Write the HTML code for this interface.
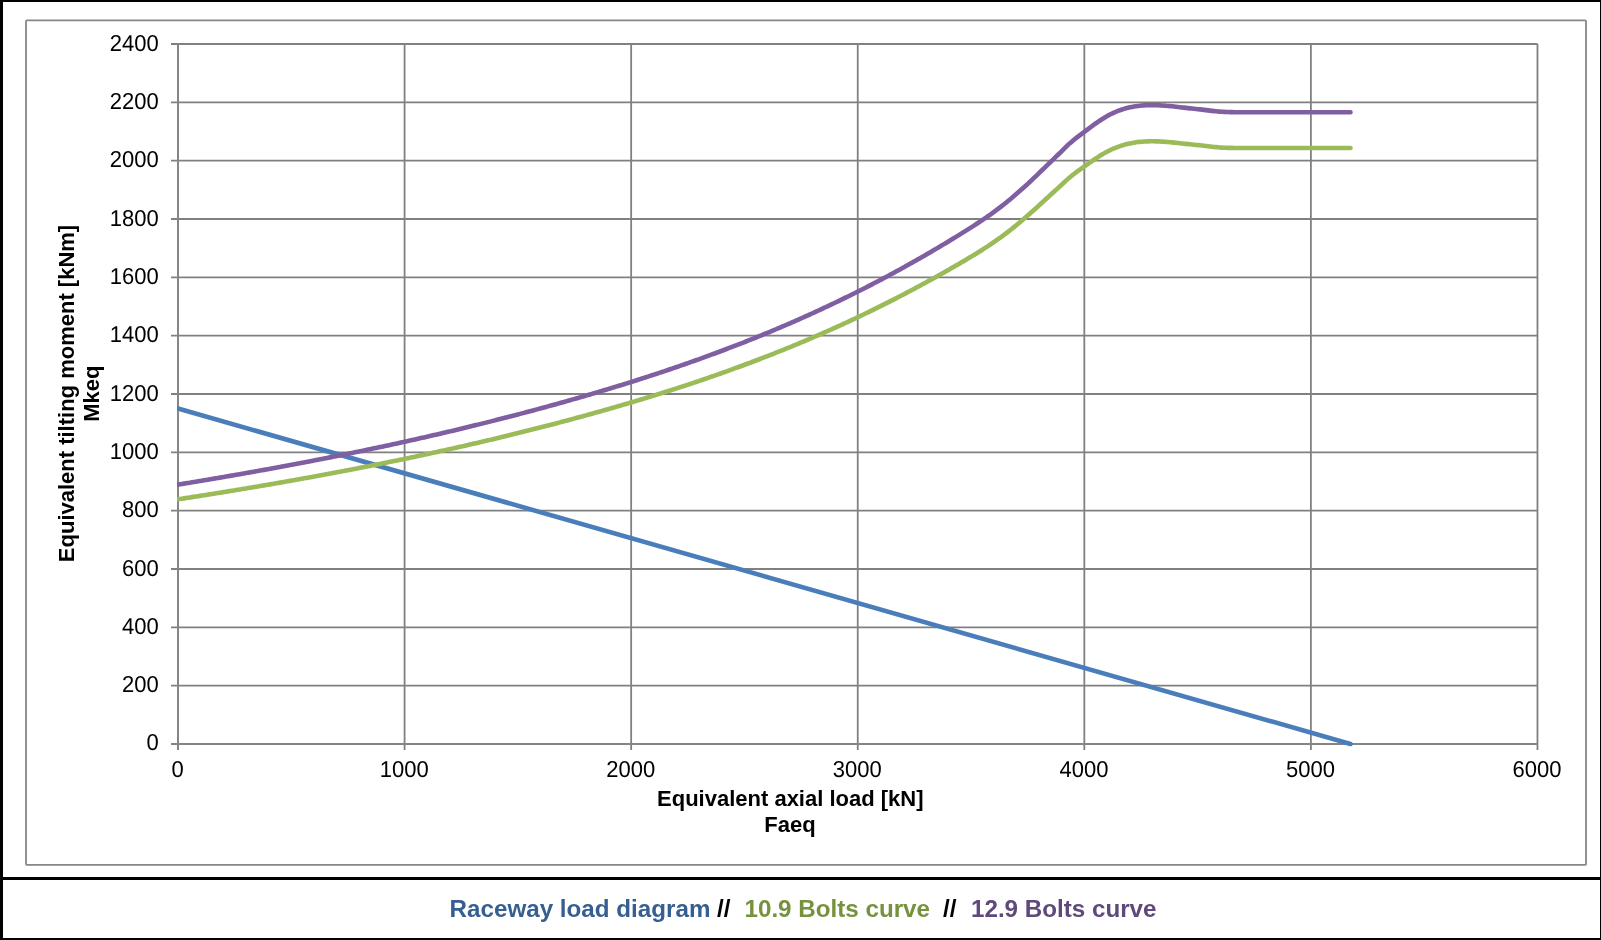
<!DOCTYPE html>
<html><head><meta charset="utf-8"><style>
html,body{margin:0;padding:0;background:#fff;}
body{width:1601px;height:940px;overflow:hidden;}
svg{display:block;font-family:"Liberation Sans",sans-serif;will-change:transform;}
</style></head><body>
<svg width="1601" height="940" viewBox="0 0 1601 940">
<rect x="0" y="0" width="1601" height="940" fill="#fff"/>
<rect x="26" y="20.3" width="1560" height="844.6" rx="1" fill="none" stroke="#878787" stroke-width="1.8"/>
<g stroke="#808080" stroke-width="1.8" fill="none">
<line x1="171" y1="685.67" x2="1537.5" y2="685.67"/><line x1="171" y1="627.33" x2="1537.5" y2="627.33"/><line x1="171" y1="569.00" x2="1537.5" y2="569.00"/><line x1="171" y1="510.67" x2="1537.5" y2="510.67"/><line x1="171" y1="452.33" x2="1537.5" y2="452.33"/><line x1="171" y1="394.00" x2="1537.5" y2="394.00"/><line x1="171" y1="335.67" x2="1537.5" y2="335.67"/><line x1="171" y1="277.33" x2="1537.5" y2="277.33"/><line x1="171" y1="219.00" x2="1537.5" y2="219.00"/><line x1="171" y1="160.67" x2="1537.5" y2="160.67"/><line x1="171" y1="102.33" x2="1537.5" y2="102.33"/><line x1="171" y1="44.00" x2="1537.5" y2="44.00"/><line x1="404.58" y1="44" x2="404.58" y2="750"/><line x1="631.16" y1="44" x2="631.16" y2="750"/><line x1="857.74" y1="44" x2="857.74" y2="750"/><line x1="1084.32" y1="44" x2="1084.32" y2="750"/><line x1="1310.90" y1="44" x2="1310.90" y2="750"/><line x1="1537.48" y1="44" x2="1537.48" y2="750"/>
</g>
<g stroke="#858585" stroke-width="2" fill="none"><line x1="171" y1="744" x2="1537.5" y2="744"/><line x1="178" y1="44" x2="178" y2="750"/></g>
<g font-size="22" fill="#000" text-anchor="end" style="text-rendering:geometricPrecision"><text transform="translate(158.8,749.80) scale(1,1.045)">0</text><text transform="translate(158.8,692.47) scale(1,1.045)">200</text><text transform="translate(158.8,634.13) scale(1,1.045)">400</text><text transform="translate(158.8,575.80) scale(1,1.045)">600</text><text transform="translate(158.8,517.47) scale(1,1.045)">800</text><text transform="translate(158.8,459.13) scale(1,1.045)">1000</text><text transform="translate(158.8,400.80) scale(1,1.045)">1200</text><text transform="translate(158.8,342.47) scale(1,1.045)">1400</text><text transform="translate(158.8,284.13) scale(1,1.045)">1600</text><text transform="translate(158.8,225.80) scale(1,1.045)">1800</text><text transform="translate(158.8,167.47) scale(1,1.045)">2000</text><text transform="translate(158.8,109.13) scale(1,1.045)">2200</text><text transform="translate(158.8,50.80) scale(1,1.045)">2400</text></g>
<g font-size="22" fill="#000" text-anchor="middle" style="text-rendering:geometricPrecision"><text transform="translate(177.60,776.6) scale(1,1.045)">0</text><text transform="translate(404.18,776.6) scale(1,1.045)">1000</text><text transform="translate(630.76,776.6) scale(1,1.045)">2000</text><text transform="translate(857.34,776.6) scale(1,1.045)">3000</text><text transform="translate(1083.92,776.6) scale(1,1.045)">4000</text><text transform="translate(1310.50,776.6) scale(1,1.045)">5000</text><text transform="translate(1537.08,776.6) scale(1,1.045)">6000</text></g>
<clipPath id="pc"><rect x="177" y="0" width="1424" height="940"/></clipPath>
<g fill="none" stroke-width="4.6" stroke-linecap="round" stroke-linejoin="round" clip-path="url(#pc)">
<polyline stroke="#4A7EBB" points="178,408.5 1350.5,744"/>
<polyline stroke="#9BBB59" points="178.0,499.30 180.0,498.99 182.0,498.69 184.0,498.38 186.0,498.07 188.0,497.76 190.0,497.45 192.0,497.13 194.0,496.82 196.0,496.51 198.0,496.19 200.0,495.88 202.0,495.56 204.0,495.25 206.0,494.93 208.0,494.61 210.0,494.29 212.0,493.97 214.0,493.65 216.0,493.33 218.0,493.01 220.0,492.69 222.0,492.37 224.0,492.04 226.0,491.72 228.0,491.39 230.0,491.06 232.0,490.74 234.0,490.41 236.0,490.08 238.0,489.75 240.0,489.42 242.0,489.09 244.0,488.76 246.0,488.42 248.0,488.09 250.0,487.75 252.0,487.42 254.0,487.08 256.0,486.74 258.0,486.40 260.0,486.07 262.0,485.73 264.0,485.38 266.0,485.04 268.0,484.70 270.0,484.36 272.0,484.01 274.0,483.66 276.0,483.32 278.0,482.97 280.0,482.62 282.0,482.27 284.0,481.92 286.0,481.57 288.0,481.22 290.0,480.87 292.0,480.51 294.0,480.16 296.0,479.80 298.0,479.44 300.0,479.08 302.0,478.72 304.0,478.36 306.0,478.00 308.0,477.64 310.0,477.28 312.0,476.91 314.0,476.55 316.0,476.18 318.0,475.82 320.0,475.45 322.0,475.08 324.0,474.71 326.0,474.34 328.0,473.96 330.0,473.59 332.0,473.22 334.0,472.84 336.0,472.46 338.0,472.09 340.0,471.71 342.0,471.33 344.0,470.95 346.0,470.56 348.0,470.18 350.0,469.80 352.0,469.41 354.0,469.02 356.0,468.64 358.0,468.25 360.0,467.86 362.0,467.47 364.0,467.08 366.0,466.68 368.0,466.29 370.0,465.89 372.0,465.49 374.0,465.10 376.0,464.70 378.0,464.30 380.0,463.90 382.0,463.49 384.0,463.09 386.0,462.68 388.0,462.28 390.0,461.87 392.0,461.46 394.0,461.05 396.0,460.64 398.0,460.23 400.0,459.82 402.0,459.40 404.0,458.99 406.0,458.57 408.0,458.15 410.0,457.73 412.0,457.31 414.0,456.89 416.0,456.46 418.0,456.04 420.0,455.61 422.0,455.19 424.0,454.76 426.0,454.33 428.0,453.90 430.0,453.46 432.0,453.03 434.0,452.59 436.0,452.16 438.0,451.72 440.0,451.28 442.0,450.84 444.0,450.40 446.0,449.96 448.0,449.51 450.0,449.07 452.0,448.62 454.0,448.17 456.0,447.72 458.0,447.27 460.0,446.82 462.0,446.37 464.0,445.91 466.0,445.45 468.0,445.00 470.0,444.54 472.0,444.08 474.0,443.61 476.0,443.15 478.0,442.68 480.0,442.22 482.0,441.75 484.0,441.28 486.0,440.81 488.0,440.34 490.0,439.87 492.0,439.39 494.0,438.91 496.0,438.44 498.0,437.96 500.0,437.48 502.0,436.99 504.0,436.51 506.0,436.03 508.0,435.54 510.0,435.05 512.0,434.56 514.0,434.07 516.0,433.58 518.0,433.08 520.0,432.59 522.0,432.09 524.0,431.59 526.0,431.09 528.0,430.59 530.0,430.09 532.0,429.58 534.0,429.07 536.0,428.57 538.0,428.06 540.0,427.55 542.0,427.03 544.0,426.52 546.0,426.00 548.0,425.49 550.0,424.97 552.0,424.45 554.0,423.92 556.0,423.40 558.0,422.88 560.0,422.35 562.0,421.82 564.0,421.29 566.0,420.76 568.0,420.23 570.0,419.69 572.0,419.15 574.0,418.62 576.0,418.08 578.0,417.53 580.0,416.99 582.0,416.45 584.0,415.90 586.0,415.35 588.0,414.80 590.0,414.25 592.0,413.69 594.0,413.14 596.0,412.58 598.0,412.02 600.0,411.46 602.0,410.90 604.0,410.33 606.0,409.76 608.0,409.20 610.0,408.62 612.0,408.05 614.0,407.48 616.0,406.90 618.0,406.32 620.0,405.74 622.0,405.16 624.0,404.57 626.0,403.98 628.0,403.40 630.0,402.80 632.0,402.21 634.0,401.61 636.0,401.02 638.0,400.42 640.0,399.81 642.0,399.21 644.0,398.60 646.0,397.99 648.0,397.38 650.0,396.77 652.0,396.15 654.0,395.53 656.0,394.91 658.0,394.29 660.0,393.66 662.0,393.04 664.0,392.41 666.0,391.77 668.0,391.14 670.0,390.50 672.0,389.86 674.0,389.22 676.0,388.57 678.0,387.93 680.0,387.28 682.0,386.62 684.0,385.97 686.0,385.31 688.0,384.65 690.0,383.99 692.0,383.32 694.0,382.65 696.0,381.98 698.0,381.31 700.0,380.63 702.0,379.95 704.0,379.27 706.0,378.58 708.0,377.89 710.0,377.20 712.0,376.51 714.0,375.81 716.0,375.12 718.0,374.41 720.0,373.71 722.0,373.00 724.0,372.29 726.0,371.58 728.0,370.86 730.0,370.14 732.0,369.42 734.0,368.69 736.0,367.96 738.0,367.23 740.0,366.50 742.0,365.76 744.0,365.02 746.0,364.27 748.0,363.53 750.0,362.78 752.0,362.02 754.0,361.27 756.0,360.51 758.0,359.74 760.0,358.98 762.0,358.21 764.0,357.43 766.0,356.66 768.0,355.88 770.0,355.10 772.0,354.31 774.0,353.52 776.0,352.73 778.0,351.93 780.0,351.13 782.0,350.33 784.0,349.52 786.0,348.71 788.0,347.90 790.0,347.08 792.0,346.26 794.0,345.44 796.0,344.61 798.0,343.78 800.0,342.94 802.0,342.11 804.0,341.26 806.0,340.42 808.0,339.57 810.0,338.72 812.0,337.86 814.0,337.00 816.0,336.14 818.0,335.27 820.0,334.40 822.0,333.52 824.0,332.64 826.0,331.76 828.0,330.87 830.0,329.98 832.0,329.09 834.0,328.19 836.0,327.29 838.0,326.38 840.0,325.47 842.0,324.56 844.0,323.64 846.0,322.72 848.0,321.80 850.0,320.87 852.0,319.93 854.0,318.99 856.0,318.05 858.0,317.11 860.0,316.16 862.0,315.20 864.0,314.25 866.0,313.28 868.0,312.32 870.0,311.35 872.0,310.37 874.0,309.39 876.0,308.41 878.0,307.42 880.0,306.43 882.0,305.43 884.0,304.43 886.0,303.43 888.0,302.42 890.0,301.41 892.0,300.39 894.0,299.37 896.0,298.34 898.0,297.31 900.0,296.28 902.0,295.24 904.0,294.19 906.0,293.15 908.0,292.09 910.0,291.04 912.0,289.97 914.0,288.91 916.0,287.84 918.0,286.77 920.0,285.69 922.0,284.60 924.0,283.52 926.0,282.43 928.0,281.33 930.0,280.23 932.0,279.13 934.0,278.02 936.0,276.91 938.0,275.79 940.0,274.67 942.0,273.55 944.0,272.42 946.0,271.29 948.0,270.15 950.0,269.01 952.0,267.86 954.0,266.71 956.0,265.56 958.0,264.40 960.0,263.24 962.0,262.08 964.0,260.90 966.0,259.72 968.0,258.54 970.0,257.34 972.0,256.14 974.0,254.92 976.0,253.70 978.0,252.46 980.0,251.20 982.0,249.94 984.0,248.66 986.0,247.36 988.0,246.05 990.0,244.72 992.0,243.37 994.0,242.00 996.0,240.61 998.0,239.20 1000.0,237.77 1002.0,236.32 1004.0,234.84 1006.0,233.34 1008.0,231.81 1010.0,230.26 1012.0,228.68 1014.0,227.08 1016.0,225.46 1018.0,223.82 1020.0,222.15 1022.0,220.47 1024.0,218.77 1026.0,217.04 1028.0,215.30 1030.0,213.55 1032.0,211.78 1034.0,209.99 1036.0,208.19 1038.0,206.38 1040.0,204.56 1042.0,202.74 1044.0,200.90 1046.0,199.07 1048.0,197.23 1050.0,195.40 1052.0,193.57 1054.0,191.74 1056.0,189.91 1058.0,188.08 1060.0,186.23 1062.0,184.36 1064.0,182.49 1066.0,180.64 1068.0,178.85 1070.0,177.15 1072.0,175.52 1074.0,173.95 1076.0,172.44 1078.0,170.97 1080.0,169.52 1082.0,168.10 1084.0,166.69 1086.0,165.28 1088.0,163.88 1090.0,162.48 1092.0,161.09 1094.0,159.73 1096.0,158.39 1098.0,157.08 1100.0,155.80 1102.0,154.57 1104.0,153.39 1106.0,152.26 1108.0,151.19 1110.0,150.18 1112.0,149.24 1114.0,148.36 1116.0,147.54 1118.0,146.79 1120.0,146.09 1122.0,145.44 1124.0,144.85 1126.0,144.31 1128.0,143.83 1130.0,143.39 1132.0,143.00 1134.0,142.65 1136.0,142.35 1138.0,142.09 1140.0,141.87 1142.0,141.69 1144.0,141.55 1146.0,141.44 1148.0,141.36 1150.0,141.32 1152.0,141.30 1154.0,141.32 1156.0,141.36 1158.0,141.42 1160.0,141.51 1162.0,141.61 1164.0,141.74 1166.0,141.88 1168.0,142.04 1170.0,142.22 1172.0,142.40 1174.0,142.60 1176.0,142.80 1178.0,143.01 1180.0,143.23 1182.0,143.45 1184.0,143.67 1186.0,143.89 1188.0,144.11 1190.0,144.32 1192.0,144.53 1194.0,144.74 1196.0,144.94 1198.0,145.13 1200.0,145.32 1202.0,145.52 1204.0,145.74 1206.0,145.98 1208.0,146.23 1210.0,146.47 1212.0,146.70 1214.0,146.92 1216.0,147.12 1218.0,147.30 1220.0,147.45 1222.0,147.58 1224.0,147.69 1226.0,147.78 1228.0,147.84 1230.0,147.89 1232.0,147.92 1234.0,147.94 1236.0,147.95 1238.0,147.95 1240.0,147.95 1350.0,147.95 1350.5,147.95"/>
<polyline stroke="#7F5FA1" points="178.0,484.62 180.0,484.29 182.0,483.97 184.0,483.64 186.0,483.31 188.0,482.98 190.0,482.65 192.0,482.32 194.0,481.99 196.0,481.66 198.0,481.33 200.0,480.99 202.0,480.66 204.0,480.32 206.0,479.99 208.0,479.65 210.0,479.31 212.0,478.97 214.0,478.63 216.0,478.29 218.0,477.95 220.0,477.61 222.0,477.27 224.0,476.92 226.0,476.58 228.0,476.23 230.0,475.89 232.0,475.54 234.0,475.19 236.0,474.84 238.0,474.50 240.0,474.14 242.0,473.79 244.0,473.44 246.0,473.09 248.0,472.73 250.0,472.38 252.0,472.02 254.0,471.67 256.0,471.31 258.0,470.95 260.0,470.59 262.0,470.23 264.0,469.87 266.0,469.50 268.0,469.14 270.0,468.78 272.0,468.41 274.0,468.04 276.0,467.68 278.0,467.31 280.0,466.94 282.0,466.57 284.0,466.20 286.0,465.82 288.0,465.45 290.0,465.08 292.0,464.70 294.0,464.32 296.0,463.95 298.0,463.57 300.0,463.19 302.0,462.81 304.0,462.43 306.0,462.04 308.0,461.66 310.0,461.28 312.0,460.89 314.0,460.50 316.0,460.11 318.0,459.72 320.0,459.33 322.0,458.94 324.0,458.55 326.0,458.16 328.0,457.76 330.0,457.37 332.0,456.97 334.0,456.57 336.0,456.17 338.0,455.77 340.0,455.37 342.0,454.97 344.0,454.56 346.0,454.16 348.0,453.75 350.0,453.34 352.0,452.94 354.0,452.53 356.0,452.12 358.0,451.70 360.0,451.29 362.0,450.88 364.0,450.46 366.0,450.04 368.0,449.62 370.0,449.21 372.0,448.78 374.0,448.36 376.0,447.94 378.0,447.52 380.0,447.09 382.0,446.66 384.0,446.24 386.0,445.81 388.0,445.38 390.0,444.94 392.0,444.51 394.0,444.08 396.0,443.64 398.0,443.20 400.0,442.76 402.0,442.33 404.0,441.88 406.0,441.44 408.0,441.00 410.0,440.55 412.0,440.11 414.0,439.66 416.0,439.21 418.0,438.76 420.0,438.31 422.0,437.86 424.0,437.40 426.0,436.95 428.0,436.49 430.0,436.03 432.0,435.57 434.0,435.11 436.0,434.65 438.0,434.18 440.0,433.72 442.0,433.25 444.0,432.78 446.0,432.31 448.0,431.84 450.0,431.37 452.0,430.90 454.0,430.42 456.0,429.95 458.0,429.47 460.0,428.99 462.0,428.51 464.0,428.02 466.0,427.54 468.0,427.06 470.0,426.57 472.0,426.08 474.0,425.59 476.0,425.10 478.0,424.61 480.0,424.11 482.0,423.62 484.0,423.12 486.0,422.62 488.0,422.12 490.0,421.62 492.0,421.11 494.0,420.61 496.0,420.10 498.0,419.59 500.0,419.08 502.0,418.57 504.0,418.06 506.0,417.55 508.0,417.03 510.0,416.51 512.0,415.99 514.0,415.47 516.0,414.95 518.0,414.43 520.0,413.90 522.0,413.38 524.0,412.85 526.0,412.32 528.0,411.78 530.0,411.25 532.0,410.72 534.0,410.18 536.0,409.64 538.0,409.10 540.0,408.56 542.0,408.02 544.0,407.47 546.0,406.92 548.0,406.38 550.0,405.83 552.0,405.27 554.0,404.72 556.0,404.17 558.0,403.61 560.0,403.05 562.0,402.49 564.0,401.93 566.0,401.36 568.0,400.80 570.0,400.23 572.0,399.66 574.0,399.09 576.0,398.52 578.0,397.95 580.0,397.37 582.0,396.79 584.0,396.21 586.0,395.63 588.0,395.05 590.0,394.46 592.0,393.88 594.0,393.29 596.0,392.70 598.0,392.10 600.0,391.51 602.0,390.91 604.0,390.31 606.0,389.71 608.0,389.11 610.0,388.50 612.0,387.89 614.0,387.29 616.0,386.67 618.0,386.06 620.0,385.44 622.0,384.83 624.0,384.21 626.0,383.58 628.0,382.96 630.0,382.33 632.0,381.70 634.0,381.07 636.0,380.44 638.0,379.80 640.0,379.16 642.0,378.52 644.0,377.88 646.0,377.23 648.0,376.58 650.0,375.93 652.0,375.28 654.0,374.63 656.0,373.97 658.0,373.31 660.0,372.64 662.0,371.98 664.0,371.31 666.0,370.64 668.0,369.97 670.0,369.29 672.0,368.61 674.0,367.93 676.0,367.25 678.0,366.56 680.0,365.87 682.0,365.18 684.0,364.49 686.0,363.79 688.0,363.09 690.0,362.38 692.0,361.68 694.0,360.97 696.0,360.26 698.0,359.54 700.0,358.83 702.0,358.11 704.0,357.38 706.0,356.66 708.0,355.93 710.0,355.20 712.0,354.46 714.0,353.72 716.0,352.98 718.0,352.24 720.0,351.49 722.0,350.74 724.0,349.99 726.0,349.23 728.0,348.47 730.0,347.71 732.0,346.94 734.0,346.17 736.0,345.40 738.0,344.63 740.0,343.85 742.0,343.06 744.0,342.28 746.0,341.49 748.0,340.70 750.0,339.90 752.0,339.10 754.0,338.30 756.0,337.50 758.0,336.69 760.0,335.88 762.0,335.06 764.0,334.24 766.0,333.42 768.0,332.59 770.0,331.76 772.0,330.93 774.0,330.09 776.0,329.25 778.0,328.41 780.0,327.56 782.0,326.71 784.0,325.85 786.0,324.99 788.0,324.13 790.0,323.27 792.0,322.40 794.0,321.52 796.0,320.65 798.0,319.77 800.0,318.88 802.0,317.99 804.0,317.10 806.0,316.20 808.0,315.30 810.0,314.40 812.0,313.49 814.0,312.58 816.0,311.66 818.0,310.74 820.0,309.82 822.0,308.89 824.0,307.96 826.0,307.03 828.0,306.09 830.0,305.14 832.0,304.20 834.0,303.24 836.0,302.29 838.0,301.33 840.0,300.36 842.0,299.39 844.0,298.42 846.0,297.44 848.0,296.46 850.0,295.48 852.0,294.49 854.0,293.49 856.0,292.50 858.0,291.49 860.0,290.49 862.0,289.48 864.0,288.46 866.0,287.44 868.0,286.42 870.0,285.39 872.0,284.35 874.0,283.32 876.0,282.27 878.0,281.23 880.0,280.18 882.0,279.12 884.0,278.06 886.0,277.00 888.0,275.93 890.0,274.85 892.0,273.77 894.0,272.69 896.0,271.60 898.0,270.51 900.0,269.41 902.0,268.31 904.0,267.21 906.0,266.09 908.0,264.98 910.0,263.86 912.0,262.73 914.0,261.60 916.0,260.47 918.0,259.33 920.0,258.19 922.0,257.04 924.0,255.89 926.0,254.73 928.0,253.57 930.0,252.41 932.0,251.24 934.0,250.06 936.0,248.88 938.0,247.70 940.0,246.51 942.0,245.32 944.0,244.12 946.0,242.92 948.0,241.72 950.0,240.51 952.0,239.30 954.0,238.08 956.0,236.86 958.0,235.63 960.0,234.40 962.0,233.16 964.0,231.92 966.0,230.67 968.0,229.41 970.0,228.14 972.0,226.87 974.0,225.58 976.0,224.28 978.0,222.96 980.0,221.64 982.0,220.29 984.0,218.94 986.0,217.56 988.0,216.17 990.0,214.76 992.0,213.33 994.0,211.88 996.0,210.41 998.0,208.92 1000.0,207.40 1002.0,205.86 1004.0,204.29 1006.0,202.70 1008.0,201.08 1010.0,199.43 1012.0,197.76 1014.0,196.07 1016.0,194.35 1018.0,192.61 1020.0,190.84 1022.0,189.06 1024.0,187.25 1026.0,185.43 1028.0,183.58 1030.0,181.72 1032.0,179.84 1034.0,177.95 1036.0,176.04 1038.0,174.12 1040.0,172.19 1042.0,170.26 1044.0,168.32 1046.0,166.37 1048.0,164.43 1050.0,162.48 1052.0,160.54 1054.0,158.60 1056.0,156.67 1058.0,154.73 1060.0,152.77 1062.0,150.78 1064.0,148.79 1066.0,146.84 1068.0,144.95 1070.0,143.14 1072.0,141.41 1074.0,139.75 1076.0,138.15 1078.0,136.58 1080.0,135.06 1082.0,133.55 1084.0,132.05 1086.0,130.56 1088.0,129.07 1090.0,127.59 1092.0,126.12 1094.0,124.67 1096.0,123.25 1098.0,121.86 1100.0,120.51 1102.0,119.21 1104.0,117.95 1106.0,116.76 1108.0,115.62 1110.0,114.55 1112.0,113.55 1114.0,112.62 1116.0,111.76 1118.0,110.95 1120.0,110.21 1122.0,109.53 1124.0,108.90 1126.0,108.33 1128.0,107.82 1130.0,107.35 1132.0,106.94 1134.0,106.57 1136.0,106.25 1138.0,105.98 1140.0,105.75 1142.0,105.55 1144.0,105.40 1146.0,105.29 1148.0,105.20 1150.0,105.16 1152.0,105.14 1154.0,105.16 1156.0,105.20 1158.0,105.27 1160.0,105.36 1162.0,105.47 1164.0,105.60 1166.0,105.76 1168.0,105.93 1170.0,106.11 1172.0,106.31 1174.0,106.51 1176.0,106.73 1178.0,106.95 1180.0,107.18 1182.0,107.41 1184.0,107.65 1186.0,107.88 1188.0,108.12 1190.0,108.34 1192.0,108.57 1194.0,108.78 1196.0,108.99 1198.0,109.20 1200.0,109.40 1202.0,109.61 1204.0,109.85 1206.0,110.10 1208.0,110.36 1210.0,110.62 1212.0,110.86 1214.0,111.10 1216.0,111.31 1218.0,111.49 1220.0,111.66 1222.0,111.80 1224.0,111.91 1226.0,112.00 1228.0,112.07 1230.0,112.12 1232.0,112.16 1234.0,112.18 1236.0,112.18 1238.0,112.19 1240.0,112.19 1350.0,112.19 1350.5,112.19"/>
</g>
<g font-size="22" font-weight="bold" fill="#000" text-anchor="middle">
<text x="790.3" y="805.6">Equivalent axial load [kN]</text>
<text x="790" y="832.2">Faeq</text>
<g transform="translate(74,393.5) rotate(-90)"><text x="0" y="0">Equivalent tilting moment [kNm]</text></g>
<g transform="translate(98.5,393.6) rotate(-90)"><text x="0" y="0">Mkeq</text></g>
</g>
<rect x="0" y="0" width="1601" height="2" fill="#000"/>
<rect x="0" y="0" width="3" height="940" fill="#000"/>
<rect x="1600" y="0" width="1" height="940" fill="#000"/>
<rect x="0" y="877" width="1601" height="3" fill="#000"/>
<rect x="0" y="938" width="1601" height="2" fill="#000"/>
<g font-size="24.2" font-weight="bold">
<text x="449.6" y="916.5" fill="#365F91">Raceway load diagram</text>
<text x="717" y="916.5" fill="#000">//</text>
<text x="744.5" y="916.5" fill="#76923C">10.9 Bolts curve</text>
<text x="943" y="916.5" fill="#000">//</text>
<text x="971" y="916.5" fill="#5F497A">12.9 Bolts curve</text>
</g>
</svg>
</body></html>
